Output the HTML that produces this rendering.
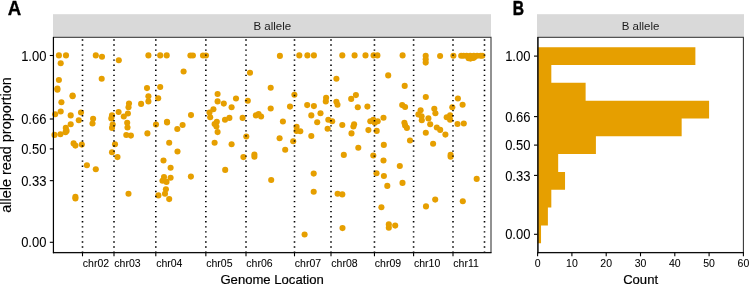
<!DOCTYPE html><html><head><meta charset="utf-8"><style>
html,body{margin:0;padding:0;background:#fff;width:750px;height:285px;overflow:hidden}
svg{display:block;will-change:transform}
text{font-family:"Liberation Sans",sans-serif}
</style></head><body>
<svg width="750" height="285" viewBox="0 0 750 285">
<rect x="0" y="0" width="750" height="285" fill="#fff"/>
<rect x="53" y="14.2" width="438" height="22.6" fill="#D9D9D9"/>
<text transform="translate(272.30,30.10)" font-size="11.5" fill="#1a1a1a" text-anchor="middle" style="stroke:none">B allele</text>
<g fill="#E69F00">
<circle cx="58.9" cy="55.40" r="3.05"/>
<circle cx="66.0" cy="55.40" r="3.05"/>
<circle cx="60.7" cy="63.30" r="3.05"/>
<circle cx="95.8" cy="55.40" r="3.05"/>
<circle cx="102.0" cy="56.80" r="3.05"/>
<circle cx="118.8" cy="60.30" r="3.05"/>
<circle cx="148.4" cy="55.40" r="3.05"/>
<circle cx="160.2" cy="55.40" r="3.05"/>
<circle cx="166.7" cy="55.40" r="3.05"/>
<circle cx="190.4" cy="55.50" r="3.05"/>
<circle cx="192.9" cy="55.50" r="3.05"/>
<circle cx="203" cy="55.50" r="3.05"/>
<circle cx="206" cy="55.50" r="3.05"/>
<circle cx="183.6" cy="71.50" r="3.05"/>
<circle cx="250.0" cy="72.70" r="3.05"/>
<circle cx="279.9" cy="55.90" r="3.05"/>
<circle cx="299.3" cy="55.40" r="3.05"/>
<circle cx="307.4" cy="55.40" r="3.05"/>
<circle cx="313.9" cy="55.40" r="3.05"/>
<circle cx="342.3" cy="55.40" r="3.05"/>
<circle cx="354.6" cy="55.40" r="3.05"/>
<circle cx="365.5" cy="55.40" r="3.05"/>
<circle cx="373.6" cy="55.40" r="3.05"/>
<circle cx="377.4" cy="55.40" r="3.05"/>
<circle cx="402.6" cy="55.40" r="3.05"/>
<circle cx="425.7" cy="55.80" r="3.05"/>
<circle cx="425.7" cy="59.20" r="3.05"/>
<circle cx="425.7" cy="62.60" r="3.05"/>
<circle cx="440.1" cy="56.00" r="3.05"/>
<circle cx="453.4" cy="55.70" r="3.05"/>
<circle cx="461.2" cy="55.80" r="3.05"/>
<circle cx="463.6" cy="55.80" r="3.05"/>
<circle cx="466.6" cy="55.80" r="3.05"/>
<circle cx="470.2" cy="55.80" r="3.05"/>
<circle cx="473.8" cy="55.80" r="3.05"/>
<circle cx="477.1" cy="55.80" r="3.05"/>
<circle cx="480.5" cy="55.80" r="3.05"/>
<circle cx="482.3" cy="55.80" r="3.05"/>
<circle cx="468.6" cy="58.30" r="3.05"/>
<circle cx="470.5" cy="58.60" r="3.05"/>
<circle cx="473.3" cy="57.90" r="3.05"/>
<circle cx="474.3" cy="57.30" r="3.05"/>
<circle cx="388.2" cy="75.40" r="3.05"/>
<circle cx="58.9" cy="80.00" r="3.05"/>
<circle cx="101.7" cy="78.80" r="3.05"/>
<circle cx="336.4" cy="78.80" r="3.05"/>
<circle cx="57.4" cy="88.50" r="3.05"/>
<circle cx="57.4" cy="89.80" r="3.05"/>
<circle cx="72.6" cy="95.60" r="3.05"/>
<circle cx="72.6" cy="96.30" r="3.05"/>
<circle cx="61.4" cy="102.20" r="3.05"/>
<circle cx="60.7" cy="111.50" r="3.05"/>
<circle cx="55.2" cy="114.30" r="3.05"/>
<circle cx="70.7" cy="115.40" r="3.05"/>
<circle cx="81.0" cy="112.50" r="3.05"/>
<circle cx="78.8" cy="120.30" r="3.05"/>
<circle cx="93.1" cy="118.80" r="3.05"/>
<circle cx="112" cy="115.40" r="3.05"/>
<circle cx="111.3" cy="118.40" r="3.05"/>
<circle cx="118.6" cy="112.00" r="3.05"/>
<circle cx="123.8" cy="116.50" r="3.05"/>
<circle cx="127.9" cy="113.50" r="3.05"/>
<circle cx="129" cy="103.60" r="3.05"/>
<circle cx="128.5" cy="107.30" r="3.05"/>
<circle cx="141.1" cy="103.90" r="3.05"/>
<circle cx="147" cy="88.10" r="3.05"/>
<circle cx="148.4" cy="96.30" r="3.05"/>
<circle cx="148.4" cy="101.40" r="3.05"/>
<circle cx="160.2" cy="87.00" r="3.05"/>
<circle cx="158.2" cy="98.20" r="3.05"/>
<circle cx="191" cy="115.10" r="3.05"/>
<circle cx="167" cy="121.80" r="3.05"/>
<circle cx="217.6" cy="94.00" r="3.05"/>
<circle cx="217.6" cy="101.40" r="3.05"/>
<circle cx="223.8" cy="103.60" r="3.05"/>
<circle cx="236" cy="98.50" r="3.05"/>
<circle cx="231.6" cy="107.30" r="3.05"/>
<circle cx="213.4" cy="109.30" r="3.05"/>
<circle cx="209.5" cy="112.50" r="3.05"/>
<circle cx="210.2" cy="117.30" r="3.05"/>
<circle cx="216.8" cy="121.80" r="3.05"/>
<circle cx="225" cy="119.80" r="3.05"/>
<circle cx="229.4" cy="117.90" r="3.05"/>
<circle cx="242.6" cy="117.90" r="3.05"/>
<circle cx="247.8" cy="100.70" r="3.05"/>
<circle cx="255.9" cy="115.40" r="3.05"/>
<circle cx="258.6" cy="114.00" r="3.05"/>
<circle cx="261.1" cy="116.50" r="3.05"/>
<circle cx="270.7" cy="87.70" r="3.05"/>
<circle cx="270.7" cy="108.50" r="3.05"/>
<circle cx="294.4" cy="94.80" r="3.05"/>
<circle cx="290" cy="106.60" r="3.05"/>
<circle cx="307.2" cy="105.10" r="3.05"/>
<circle cx="313.9" cy="106.10" r="3.05"/>
<circle cx="326.1" cy="97.70" r="3.05"/>
<circle cx="325.8" cy="101.40" r="3.05"/>
<circle cx="336.4" cy="101.70" r="3.05"/>
<circle cx="337.5" cy="104.70" r="3.05"/>
<circle cx="351.2" cy="98.90" r="3.05"/>
<circle cx="355.9" cy="95.10" r="3.05"/>
<circle cx="357.8" cy="107.30" r="3.05"/>
<circle cx="367.4" cy="106.60" r="3.05"/>
<circle cx="320.5" cy="113.20" r="3.05"/>
<circle cx="311.3" cy="115.40" r="3.05"/>
<circle cx="282.9" cy="121.50" r="3.05"/>
<circle cx="317.2" cy="122.30" r="3.05"/>
<circle cx="328.3" cy="119.80" r="3.05"/>
<circle cx="332.2" cy="121.30" r="3.05"/>
<circle cx="373.3" cy="119.80" r="3.05"/>
<circle cx="370.3" cy="121.30" r="3.05"/>
<circle cx="377.7" cy="121.30" r="3.05"/>
<circle cx="383.5" cy="117.80" r="3.05"/>
<circle cx="404.7" cy="85.90" r="3.05"/>
<circle cx="425.8" cy="97.00" r="3.05"/>
<circle cx="402.2" cy="105.10" r="3.05"/>
<circle cx="405.1" cy="107.00" r="3.05"/>
<circle cx="420.6" cy="110.30" r="3.05"/>
<circle cx="418.4" cy="114.40" r="3.05"/>
<circle cx="421.6" cy="116.20" r="3.05"/>
<circle cx="421.8" cy="120.30" r="3.05"/>
<circle cx="428.4" cy="118.40" r="3.05"/>
<circle cx="434.3" cy="108.80" r="3.05"/>
<circle cx="435.4" cy="113.20" r="3.05"/>
<circle cx="446.7" cy="117.30" r="3.05"/>
<circle cx="450.1" cy="115.40" r="3.05"/>
<circle cx="450.1" cy="119.80" r="3.05"/>
<circle cx="452.3" cy="107.30" r="3.05"/>
<circle cx="457.9" cy="98.50" r="3.05"/>
<circle cx="462.6" cy="104.70" r="3.05"/>
<circle cx="70.7" cy="124.30" r="3.05"/>
<circle cx="65.8" cy="127.90" r="3.05"/>
<circle cx="66.6" cy="130.90" r="3.05"/>
<circle cx="65.5" cy="132.30" r="3.05"/>
<circle cx="60.4" cy="134.30" r="3.05"/>
<circle cx="54.5" cy="134.90" r="3.05"/>
<circle cx="73.6" cy="143.40" r="3.05"/>
<circle cx="75.4" cy="145.60" r="3.05"/>
<circle cx="81.8" cy="144.60" r="3.05"/>
<circle cx="92.5" cy="123.50" r="3.05"/>
<circle cx="112.7" cy="124.50" r="3.05"/>
<circle cx="112" cy="127.90" r="3.05"/>
<circle cx="115" cy="144.20" r="3.05"/>
<circle cx="112" cy="152.30" r="3.05"/>
<circle cx="117.5" cy="157.10" r="3.05"/>
<circle cx="127.2" cy="122.80" r="3.05"/>
<circle cx="127.5" cy="127.50" r="3.05"/>
<circle cx="126.3" cy="135.00" r="3.05"/>
<circle cx="130.9" cy="135.60" r="3.05"/>
<circle cx="147.4" cy="133.40" r="3.05"/>
<circle cx="156" cy="124.50" r="3.05"/>
<circle cx="163.5" cy="160.50" r="3.05"/>
<circle cx="167.1" cy="122.50" r="3.05"/>
<circle cx="182.6" cy="125.00" r="3.05"/>
<circle cx="177.3" cy="129.00" r="3.05"/>
<circle cx="169.2" cy="142.70" r="3.05"/>
<circle cx="177.5" cy="151.50" r="3.05"/>
<circle cx="214.6" cy="124.00" r="3.05"/>
<circle cx="216.4" cy="126.50" r="3.05"/>
<circle cx="217.6" cy="132.10" r="3.05"/>
<circle cx="214.6" cy="142.70" r="3.05"/>
<circle cx="231.6" cy="144.20" r="3.05"/>
<circle cx="246.3" cy="136.50" r="3.05"/>
<circle cx="243.4" cy="157.10" r="3.05"/>
<circle cx="254.4" cy="154.50" r="3.05"/>
<circle cx="254.4" cy="156.70" r="3.05"/>
<circle cx="296.6" cy="126.90" r="3.05"/>
<circle cx="296.6" cy="130.90" r="3.05"/>
<circle cx="300.3" cy="131.30" r="3.05"/>
<circle cx="279.6" cy="138.30" r="3.05"/>
<circle cx="293.2" cy="141.20" r="3.05"/>
<circle cx="285.2" cy="149.80" r="3.05"/>
<circle cx="311.3" cy="136.00" r="3.05"/>
<circle cx="327.6" cy="128.70" r="3.05"/>
<circle cx="342.3" cy="125.00" r="3.05"/>
<circle cx="354.1" cy="124.30" r="3.05"/>
<circle cx="353.4" cy="126.50" r="3.05"/>
<circle cx="351.5" cy="133.40" r="3.05"/>
<circle cx="358.3" cy="147.80" r="3.05"/>
<circle cx="343.8" cy="154.90" r="3.05"/>
<circle cx="374.8" cy="122.80" r="3.05"/>
<circle cx="368.4" cy="130.10" r="3.05"/>
<circle cx="376.7" cy="130.90" r="3.05"/>
<circle cx="373.3" cy="155.50" r="3.05"/>
<circle cx="383.8" cy="144.90" r="3.05"/>
<circle cx="383.5" cy="160.50" r="3.05"/>
<circle cx="404.4" cy="122.80" r="3.05"/>
<circle cx="405.1" cy="125.40" r="3.05"/>
<circle cx="406.9" cy="127.90" r="3.05"/>
<circle cx="410" cy="140.50" r="3.05"/>
<circle cx="430.2" cy="124.30" r="3.05"/>
<circle cx="425.8" cy="132.80" r="3.05"/>
<circle cx="436.8" cy="127.50" r="3.05"/>
<circle cx="440.2" cy="129.90" r="3.05"/>
<circle cx="445.4" cy="134.60" r="3.05"/>
<circle cx="433.1" cy="143.70" r="3.05"/>
<circle cx="450.6" cy="154.90" r="3.05"/>
<circle cx="450.6" cy="156.70" r="3.05"/>
<circle cx="457.5" cy="124.00" r="3.05"/>
<circle cx="463.8" cy="123.50" r="3.05"/>
<circle cx="86.9" cy="165.20" r="3.05"/>
<circle cx="95.8" cy="169.20" r="3.05"/>
<circle cx="75.4" cy="196.90" r="3.05"/>
<circle cx="75.4" cy="198.40" r="3.05"/>
<circle cx="128.5" cy="193.70" r="3.05"/>
<circle cx="164" cy="177.00" r="3.05"/>
<circle cx="162.5" cy="180.70" r="3.05"/>
<circle cx="166.5" cy="181.90" r="3.05"/>
<circle cx="170.6" cy="177.70" r="3.05"/>
<circle cx="170.6" cy="167.70" r="3.05"/>
<circle cx="165.9" cy="189.30" r="3.05"/>
<circle cx="165" cy="193.70" r="3.05"/>
<circle cx="158.4" cy="195.40" r="3.05"/>
<circle cx="169.2" cy="199.10" r="3.05"/>
<circle cx="190.9" cy="176.60" r="3.05"/>
<circle cx="225.2" cy="169.90" r="3.05"/>
<circle cx="271.2" cy="180.00" r="3.05"/>
<circle cx="313.7" cy="173.60" r="3.05"/>
<circle cx="313.7" cy="191.80" r="3.05"/>
<circle cx="337.6" cy="193.70" r="3.05"/>
<circle cx="342.3" cy="194.40" r="3.05"/>
<circle cx="399.8" cy="166.00" r="3.05"/>
<circle cx="376.5" cy="173.30" r="3.05"/>
<circle cx="383.9" cy="176.00" r="3.05"/>
<circle cx="387.3" cy="185.90" r="3.05"/>
<circle cx="402.5" cy="182.90" r="3.05"/>
<circle cx="435.2" cy="199.60" r="3.05"/>
<circle cx="462.8" cy="201.20" r="3.05"/>
<circle cx="476.7" cy="178.90" r="3.05"/>
<circle cx="304.6" cy="234.50" r="3.05"/>
<circle cx="342.5" cy="228.10" r="3.05"/>
<circle cx="381.4" cy="207.20" r="3.05"/>
<circle cx="388.8" cy="224.40" r="3.05"/>
<circle cx="388.8" cy="227.80" r="3.05"/>
<circle cx="395.2" cy="225.60" r="3.05"/>
<circle cx="426" cy="206.40" r="3.05"/>
</g>
<g stroke="#000" stroke-width="1.6" stroke-dasharray="1.35 3.7">
<line x1="82.5" y1="252.75" x2="82.5" y2="37"/>
<line x1="114.0" y1="252.75" x2="114.0" y2="37"/>
<line x1="155.8" y1="252.75" x2="155.8" y2="37"/>
<line x1="205.85" y1="252.75" x2="205.85" y2="37"/>
<line x1="246.0" y1="252.75" x2="246.0" y2="37"/>
<line x1="294.5" y1="252.75" x2="294.5" y2="37"/>
<line x1="331.0" y1="252.75" x2="331.0" y2="37"/>
<line x1="374.45" y1="252.75" x2="374.45" y2="37"/>
<line x1="413.6" y1="252.75" x2="413.6" y2="37"/>
<line x1="453.0" y1="252.75" x2="453.0" y2="37"/>
<line x1="484.5" y1="252.75" x2="484.5" y2="37"/>
</g>
<rect x="53.5" y="37.3" width="437.5" height="215.2" fill="none" stroke="#333" stroke-width="1.07"/>
<line x1="53.4" y1="37" x2="53.4" y2="253.3" stroke="#000" stroke-width="1.1"/>
<line x1="52.9" y1="252.7" x2="491.5" y2="252.7" stroke="#000" stroke-width="1.1"/>
<line x1="49.8" y1="55.5" x2="53" y2="55.5" stroke="#000" stroke-width="1.1"/>
<text transform="translate(46.40,60.90) scale(0.9420289855072463,1.0)" font-size="13.8" fill="#000" text-anchor="end" style="stroke:#000;stroke-width:0.05px">1.00</text>
<line x1="49.8" y1="119.0" x2="53" y2="119.0" stroke="#000" stroke-width="1.1"/>
<text transform="translate(46.40,124.10) scale(0.9420289855072463,1.0)" font-size="13.8" fill="#000" text-anchor="end" style="stroke:#000;stroke-width:0.05px">0.66</text>
<line x1="49.8" y1="148.9" x2="53" y2="148.9" stroke="#000" stroke-width="1.1"/>
<text transform="translate(46.40,153.90) scale(0.9420289855072463,1.0)" font-size="13.8" fill="#000" text-anchor="end" style="stroke:#000;stroke-width:0.05px">0.50</text>
<line x1="49.8" y1="180.65" x2="53" y2="180.65" stroke="#000" stroke-width="1.1"/>
<text transform="translate(46.40,185.90) scale(0.9420289855072463,1.0)" font-size="13.8" fill="#000" text-anchor="end" style="stroke:#000;stroke-width:0.05px">0.33</text>
<line x1="49.8" y1="242.3" x2="53" y2="242.3" stroke="#000" stroke-width="1.1"/>
<text transform="translate(46.40,247.10) scale(0.9420289855072463,1.0)" font-size="13.8" fill="#000" text-anchor="end" style="stroke:#000;stroke-width:0.05px">0.00</text>
<line x1="82.5" y1="252.5" x2="82.5" y2="256.3" stroke="#000" stroke-width="1.1"/>
<text transform="translate(82.85,267.45)" font-size="10.5" fill="#000" style="stroke:#000;stroke-width:0.06px">chr02</text>
<line x1="114.0" y1="252.5" x2="114.0" y2="256.3" stroke="#000" stroke-width="1.1"/>
<text transform="translate(114.35,267.45)" font-size="10.5" fill="#000" style="stroke:#000;stroke-width:0.06px">chr03</text>
<line x1="155.8" y1="252.5" x2="155.8" y2="256.3" stroke="#000" stroke-width="1.1"/>
<text transform="translate(156.15,267.45)" font-size="10.5" fill="#000" style="stroke:#000;stroke-width:0.06px">chr04</text>
<line x1="205.85" y1="252.5" x2="205.85" y2="256.3" stroke="#000" stroke-width="1.1"/>
<text transform="translate(206.20,267.45)" font-size="10.5" fill="#000" style="stroke:#000;stroke-width:0.06px">chr05</text>
<line x1="246.0" y1="252.5" x2="246.0" y2="256.3" stroke="#000" stroke-width="1.1"/>
<text transform="translate(246.35,267.45)" font-size="10.5" fill="#000" style="stroke:#000;stroke-width:0.06px">chr06</text>
<line x1="294.5" y1="252.5" x2="294.5" y2="256.3" stroke="#000" stroke-width="1.1"/>
<text transform="translate(294.85,267.45)" font-size="10.5" fill="#000" style="stroke:#000;stroke-width:0.06px">chr07</text>
<line x1="331.0" y1="252.5" x2="331.0" y2="256.3" stroke="#000" stroke-width="1.1"/>
<text transform="translate(331.35,267.45)" font-size="10.5" fill="#000" style="stroke:#000;stroke-width:0.06px">chr08</text>
<line x1="374.45" y1="252.5" x2="374.45" y2="256.3" stroke="#000" stroke-width="1.1"/>
<text transform="translate(374.80,267.45)" font-size="10.5" fill="#000" style="stroke:#000;stroke-width:0.06px">chr09</text>
<line x1="413.6" y1="252.5" x2="413.6" y2="256.3" stroke="#000" stroke-width="1.1"/>
<text transform="translate(413.95,267.45)" font-size="10.5" fill="#000" style="stroke:#000;stroke-width:0.06px">chr10</text>
<line x1="453.0" y1="252.5" x2="453.0" y2="256.3" stroke="#000" stroke-width="1.1"/>
<text transform="translate(453.35,267.45)" font-size="10.5" fill="#000" style="stroke:#000;stroke-width:0.06px">chr11</text>
<text transform="translate(272.10,283.70)" font-size="13.1" fill="#000" text-anchor="middle" style="stroke:#000;stroke-width:0.2px">Genome Location</text>
<text transform="translate(11.00,145.00) rotate(-90) scale(1.01,1.0)" font-size="14.3" fill="#000" text-anchor="middle" style="stroke:#000;stroke-width:0.12px">allele read proportion</text>
<text transform="translate(7.70,14.70) scale(0.92,1.0)" font-size="20.3" font-weight="bold" fill="#000" style="stroke:#000;stroke-width:0.3px">A</text>
<rect x="537" y="14.2" width="207" height="22.6" fill="#D9D9D9"/>
<text transform="translate(640.50,30.10)" font-size="11.5" fill="#1a1a1a" text-anchor="middle" style="stroke:none">B allele</text>
<path d="M537.6,47.19 L695.38,47.19 L695.38,65.01 L551.32,65.01 L551.32,82.83 L585.62,82.83 L585.62,100.65 L709.10,100.65 L709.10,118.47 L681.66,118.47 L681.66,136.29 L595.91,136.29 L595.91,154.11 L558.18,154.11 L558.18,171.93 L565.04,171.93 L565.04,189.75 L551.32,189.75 L551.32,207.57 L547.89,207.57 L547.89,225.39 L541.03,225.39 L541.03,243.21 L537.6,243.21 Z" fill="#E69F00"/>
<rect x="537.9" y="37.3" width="205.5" height="215.2" fill="none" stroke="#333" stroke-width="1.07"/>
<line x1="537.9" y1="37" x2="537.9" y2="253.3" stroke="#000" stroke-width="1.1"/>
<line x1="537.4" y1="252.7" x2="744" y2="252.7" stroke="#000" stroke-width="1.1"/>
<line x1="534.0" y1="56.1" x2="537.5" y2="56.1" stroke="#000" stroke-width="1.1"/>
<text transform="translate(530.40,60.90) scale(0.9420289855072463,1.0)" font-size="13.8" fill="#000" text-anchor="end" style="stroke:#000;stroke-width:0.05px">1.00</text>
<line x1="534.0" y1="116.6" x2="537.5" y2="116.6" stroke="#000" stroke-width="1.1"/>
<text transform="translate(530.40,121.80) scale(0.9420289855072463,1.0)" font-size="13.8" fill="#000" text-anchor="end" style="stroke:#000;stroke-width:0.05px">0.66</text>
<line x1="534.0" y1="145.1" x2="537.5" y2="145.1" stroke="#000" stroke-width="1.1"/>
<text transform="translate(530.40,150.30) scale(0.9420289855072463,1.0)" font-size="13.8" fill="#000" text-anchor="end" style="stroke:#000;stroke-width:0.05px">0.50</text>
<line x1="534.0" y1="175.4" x2="537.5" y2="175.4" stroke="#000" stroke-width="1.1"/>
<text transform="translate(530.40,180.50) scale(0.9420289855072463,1.0)" font-size="13.8" fill="#000" text-anchor="end" style="stroke:#000;stroke-width:0.05px">0.33</text>
<line x1="534.0" y1="234.3" x2="537.5" y2="234.3" stroke="#000" stroke-width="1.1"/>
<text transform="translate(530.40,239.20) scale(0.9420289855072463,1.0)" font-size="13.8" fill="#000" text-anchor="end" style="stroke:#000;stroke-width:0.05px">0.00</text>
<line x1="537.60" y1="252.5" x2="537.60" y2="256.3" stroke="#000" stroke-width="1.1"/>
<text transform="translate(537.60,267.45)" font-size="10.5" fill="#000" text-anchor="middle" style="stroke:#000;stroke-width:0.06px">0</text>
<line x1="571.90" y1="252.5" x2="571.90" y2="256.3" stroke="#000" stroke-width="1.1"/>
<text transform="translate(571.90,267.45)" font-size="10.5" fill="#000" text-anchor="middle" style="stroke:#000;stroke-width:0.06px">10</text>
<line x1="606.20" y1="252.5" x2="606.20" y2="256.3" stroke="#000" stroke-width="1.1"/>
<text transform="translate(606.20,267.45)" font-size="10.5" fill="#000" text-anchor="middle" style="stroke:#000;stroke-width:0.06px">20</text>
<line x1="640.50" y1="252.5" x2="640.50" y2="256.3" stroke="#000" stroke-width="1.1"/>
<text transform="translate(640.50,267.45)" font-size="10.5" fill="#000" text-anchor="middle" style="stroke:#000;stroke-width:0.06px">30</text>
<line x1="674.80" y1="252.5" x2="674.80" y2="256.3" stroke="#000" stroke-width="1.1"/>
<text transform="translate(674.80,267.45)" font-size="10.5" fill="#000" text-anchor="middle" style="stroke:#000;stroke-width:0.06px">40</text>
<line x1="709.10" y1="252.5" x2="709.10" y2="256.3" stroke="#000" stroke-width="1.1"/>
<text transform="translate(709.10,267.45)" font-size="10.5" fill="#000" text-anchor="middle" style="stroke:#000;stroke-width:0.06px">50</text>
<line x1="743.40" y1="252.5" x2="743.40" y2="256.3" stroke="#000" stroke-width="1.1"/>
<text transform="translate(743.40,267.45)" font-size="10.5" fill="#000" text-anchor="middle" style="stroke:#000;stroke-width:0.06px">60</text>
<text transform="translate(640.60,283.70)" font-size="13.1" fill="#000" text-anchor="middle" style="stroke:#000;stroke-width:0.2px">Count</text>
<text transform="translate(512.70,14.50) scale(0.78,1.0)" font-size="20" font-weight="bold" fill="#000" style="stroke:#000;stroke-width:0.5px">B</text>
</svg></body></html>
